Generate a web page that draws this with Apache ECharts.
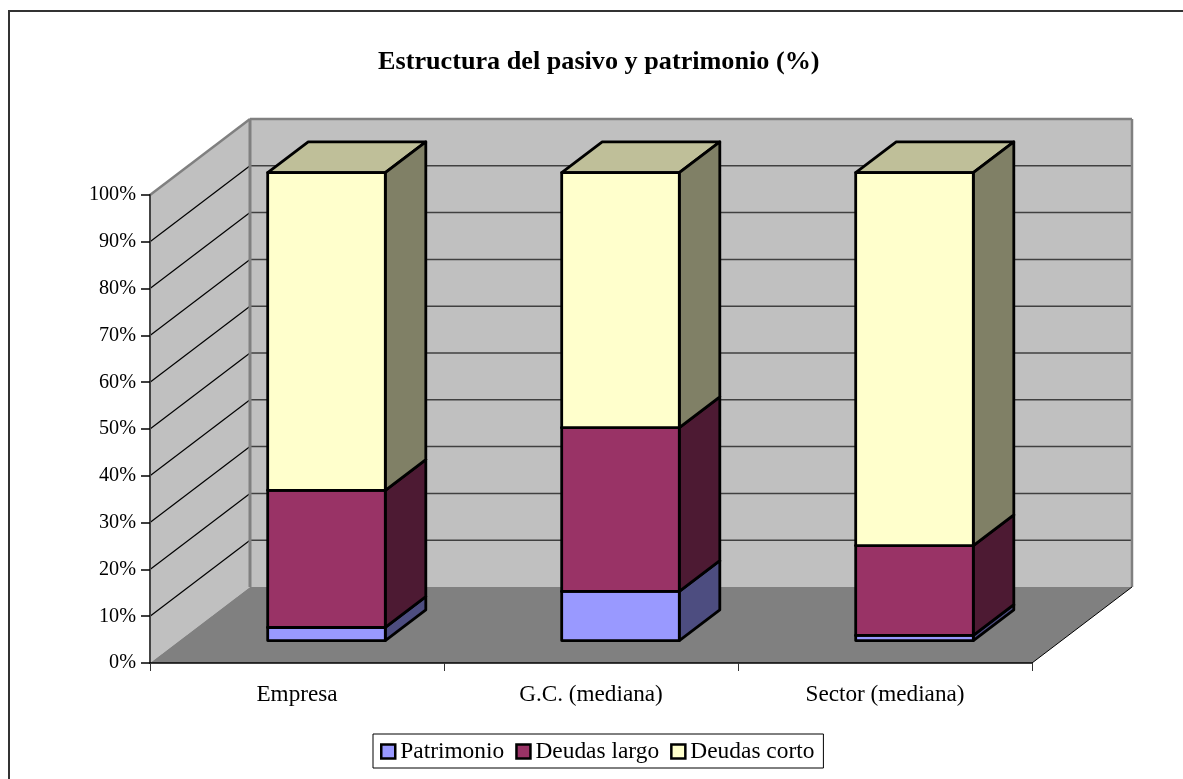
<!DOCTYPE html>
<html>
<head>
<meta charset="utf-8">
<style>
html,body{margin:0;padding:0;background:#fff;overflow:hidden}
#frame{position:absolute;left:8px;top:10px;width:1175px;height:769px;border-style:solid;border-color:#333;border-width:2px 0 0 2px;box-sizing:border-box}
#c{position:absolute;left:0;top:0;width:1183px;height:779px}
</style>
<script src="https://cdn.jsdelivr.net/npm/echarts@6/dist/echarts.min.js"></script>
</head>
<body>
<div id="frame"></div>
<div id="c"></div>
<script>
const categories = ['Empresa', 'G.C. (mediana)', 'Sector (mediana)'];
const seriesNames = ['Patrimonio', 'Deudas largo', 'Deudas corto'];
const patrimonio = [2.8, 10.5, 1.1];
const deudasLargo = [29.3, 35.0, 19.2];
const deudasCorto = [67.9, 54.5, 79.7];
const yTicks = [0, 10, 20, 30, 40, 50, 60, 70, 80, 90, 100];

// 3D projection of the box (pixels per full depth of the plot)
const DEPTH_X = 100, DEPTH_Y = 76;
const BAR_NEAR = 0.295, BAR_FAR = 0.70, BAR_WIDTH = 0.40;
const FONT = '"Liberation Serif","Times New Roman",serif';
const EDGE = 2.8;

const faces = {
  blue:   {front: '#9999FF', side: '#4D4D80', top: '#7A7ACC'},
  maroon: {front: '#993366', side: '#4D1A33', top: '#7A2952'},
  yellow: {front: '#FFFFCC', side: '#808066', top: '#BFBF99'}
};

function poly(points, fill, stroke, lineWidth) {
  return {
    type: 'polygon',
    shape: {points: points},
    style: {fill: fill, stroke: stroke || null, lineWidth: lineWidth || 0, lineJoin: 'round'}
  };
}
function seg(x1, y1, x2, y2, color, w) {
  return {
    type: 'line',
    shape: {x1, y1, x2, y2},
    style: {stroke: color, lineWidth: w}
  };
}

function renderWalls(params, api) {
  const band = api.size([1, 0])[0];
  const l = api.coord([0, 0])[0] - band / 2;
  const r = api.coord([categories.length - 1, 0])[0] + band / 2;
  const b = api.coord([0, 0])[1];
  const t = api.coord([0, 100])[1];
  const dx = DEPTH_X, dy = DEPTH_Y;
  const children = [
    poly([[l + dx, t - dy], [r + dx, t - dy], [r + dx, b - dy], [l + dx, b - dy]], '#C0C0C0'),
    poly([[l, t], [l + dx, t - dy], [l + dx, b - dy], [l, b]], '#C0C0C0'),
    poly([[l, b], [l + dx, b - dy], [r + dx, b - dy], [r, b]], '#808080')
  ];
  yTicks.forEach(function (v) {
    const y = api.coord([0, v])[1];
    if (v > 0 && v < 100) {
      children.push(seg(l + dx, y - dy, r + dx, y - dy, '#404040', 1.5));
      children.push(seg(l, y, l + dx, y - dy, '#000000', 1.2));
    }
  });
  children.push(seg(l, t, l + dx, t - dy, '#808080', 2.5));
  children.push(seg(l + dx, t - dy, r + dx, t - dy, '#808080', 2.5));
  children.push(seg(l + dx, t - dy, l + dx, b - dy, '#808080', 3));
  children.push(seg(r + dx, t - dy, r + dx, b - dy, '#808080', 2.5));
  children.push(seg(r, b, r + dx, b - dy, '#000000', 1));
  return {type: 'group', children: children};
}

function makeRenderer(face) {
  return function (params, api) {
    const i = api.value(0), lo = api.value(1), hi = api.value(2);
    const band = api.size([1, 0])[0];
    const cx = api.coord([i, 0])[0];
    const hw = band * BAR_WIDTH / 2;
    const yLo = api.coord([i, lo])[1], yHi = api.coord([i, hi])[1];
    const nx = DEPTH_X * BAR_NEAR, ny = DEPTH_Y * BAR_NEAR;
    const fx = DEPTH_X * BAR_FAR, fy = DEPTH_Y * BAR_FAR;
    const x0 = cx - hw + nx, x1 = cx + hw + nx;
    const yb = yLo - ny, yt = yHi - ny;
    const ax = fx - nx, ay = fy - ny;
    return {
      type: 'group',
      children: [
        poly([[x0, yt], [x0 + ax, yt - ay], [x1 + ax, yt - ay], [x1, yt]], face.top, '#000', EDGE),
        poly([[x1, yb], [x1 + ax, yb - ay], [x1 + ax, yt - ay], [x1, yt]], face.side, '#000', EDGE),
        poly([[x0, yb], [x1, yb], [x1, yt], [x0, yt]], face.front, '#000', EDGE)
      ]
    };
  };
}

function stackData(values, below) {
  return values.map(function (v, i) { return [i, below[i], below[i] + v]; });
}
const base0 = [0, 0, 0];
const base1 = patrimonio.slice();
const base2 = patrimonio.map(function (v, i) { return v + deudasLargo[i]; });

function barSeries(name, data, face) {
  return {
    type: 'custom',
    name: name,
    coordinateSystem: 'cartesian2d',
    renderItem: makeRenderer(face),
    data: data,
    encode: {x: 0, y: [1, 2]},
    itemStyle: {color: face.front, borderColor: '#000', borderWidth: EDGE},
    z: 3,
    animation: false,
    silent: true
  };
}

const chart = echarts.init(document.getElementById('c'), null, {renderer: 'canvas'});
chart.setOption({
  animation: false,
  backgroundColor: 'transparent',
  title: {
    text: 'Estructura del pasivo y patrimonio (%)',
    left: 373,
    top: 44,
    textStyle: {fontFamily: FONT, fontSize: 26.2, fontWeight: 'bold', color: '#000'}
  },
  grid: {left: 150, right: 151, top: 195, bottom: 116},
  xAxis: {
    type: 'category',
    data: categories,
    z: 5,
    axisLine: {show: true, lineStyle: {color: '#000', width: 1.5}},
    axisTick: {show: true, alignWithLabel: false, length: 8, lineStyle: {color: '#333', width: 1}},
    axisLabel: {margin: 20, fontFamily: FONT, fontSize: 23.2, color: '#000'}
  },
  yAxis: {
    type: 'value',
    min: 0,
    max: 100,
    interval: 10,
    z: 5,
    splitLine: {show: false},
    axisLine: {show: true, lineStyle: {color: '#444', width: 2}},
    axisTick: {show: true, length: 9, lineStyle: {color: '#000', width: 1.5}},
    axisLabel: {margin: 14, formatter: '{value}%', fontFamily: FONT, fontSize: 20.2, color: '#000'}
  },
  legend: {
    data: seriesNames,
    left: 373,
    top: 734,
    orient: 'horizontal',
    padding: [6, 9, 5, 7],
    itemGap: 11,
    itemWidth: 14,
    itemHeight: 14,
    icon: 'rect',
    selectedMode: false,
    borderColor: '#000',
    borderWidth: 1,
    backgroundColor: '#fff',
    itemStyle: {borderColor: '#000', borderWidth: 2.5},
    textStyle: {fontFamily: FONT, fontSize: 23.4, color: '#000'}
  },
  series: [
    {
      type: 'custom',
      name: 'walls',
      coordinateSystem: 'cartesian2d',
      renderItem: renderWalls,
      data: [[0, 0]],
      encode: {x: 0, y: 1},
      z: 1,
      silent: true,
      clip: false
    },
    barSeries(seriesNames[0], stackData(patrimonio, base0), faces.blue),
    barSeries(seriesNames[1], stackData(deudasLargo, base1), faces.maroon),
    barSeries(seriesNames[2], stackData(deudasCorto, base2), faces.yellow)
  ]
});
</script>
</body>
</html>
